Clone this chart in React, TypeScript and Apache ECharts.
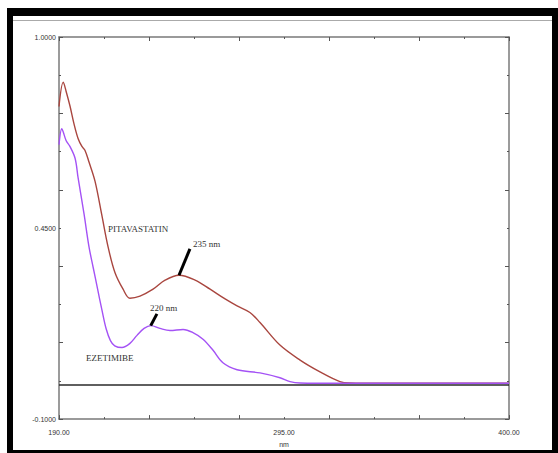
import { useEffect, useRef } from "react";
import * as echarts from "echarts";

// Absorbance spectra (wavelength in nm, absorbance)
const pitavastatinNm = [190, 192, 193.3, 195.1, 197, 198.9, 200.7, 202.1, 204, 206.8, 209.9, 212.9, 216.1, 219.9, 223.1, 227.8, 233.9, 239.5, 246, 253.5, 260.5, 267.5, 273.1, 279.1, 283.8, 293.1, 302.5, 311.8, 321.1, 325.8, 340, 360, 380, 400];
const pitavastatinAbs = [0.8, 0.87, 0.844, 0.802, 0.75, 0.708, 0.685, 0.674, 0.64, 0.585, 0.49, 0.396, 0.322, 0.274, 0.248, 0.254, 0.274, 0.3, 0.314, 0.3, 0.274, 0.246, 0.226, 0.207, 0.178, 0.113, 0.07, 0.036, 0.008, 0.004, 0.003, 0.003, 0.003, 0.003];

const ezetimibeNm = [190, 191.3, 191.9, 193.3, 195.1, 197.5, 198.9, 201.7, 204, 206, 208, 210, 212, 214, 216, 219.4, 223.1, 226.4, 229.7, 232.9, 237.1, 241.8, 247.9, 252.5, 257.2, 261.9, 266.5, 273.1, 283.8, 293.1, 297.8, 302.5, 320, 350, 400];
const ezetimibeAbs = [0.69, 0.736, 0.728, 0.702, 0.685, 0.651, 0.595, 0.49, 0.396, 0.335, 0.275, 0.215, 0.16, 0.126, 0.111, 0.106, 0.118, 0.141, 0.161, 0.169, 0.161, 0.155, 0.158, 0.149, 0.13, 0.098, 0.062, 0.042, 0.033, 0.019, 0.008, 0.004, 0.003, 0.003, 0.003];

// Axis ticks and labels
const xLabels = [190, 295, 400];
const xMajorTicks = [190, 232, 274, 316, 358, 400];
const xMinorTicks = [211, 253, 295, 337, 379];
const yLabels = [-0.1, 0.45, 1.0];
const yMajorTicks = [-0.1, 0.12, 0.34, 0.56, 0.78, 1.0];
const yMinorTicks = [0.01, 0.23, 0.45, 0.67, 0.89];

// Peak annotations: pointer from peak to label, text anchor (data coords)
const peakNotes = [
  { text: "235 nm", from: [246.0, 0.314], to: [251.1, 0.39], at: [252.5, 0.405] },
  { text: "220 nm", from: [232.8, 0.169], to: [235.7, 0.203], at: [232.5, 0.22] },
];
const seriesNotes = [
  { text: "PITAVASTATIN", at: [212.9, 0.447] },
  { text: "EZETIMIBE", at: [202.6, 0.076] },
];

const AXIS_COLOR = "#7a7a7a";
const TICK_COLOR = "#555";
const LABEL_FONT = "Liberation Sans, Arial, sans-serif";
const NOTE_FONT = "Liberation Serif, Times New Roman, serif";

export default function App() {
  const ref = useRef<HTMLDivElement>(null);

  useEffect(() => {
    document.body.style.margin = "0";
    if (!ref.current) return;
    const chart = echarts.init(ref.current, null, { renderer: "svg" });

    const xAxisBase = { type: "value", min: 190, max: 400, splitLine: { show: false } };
    const yAxisBase = { type: "value", min: -0.1, max: 1.0, splitLine: { show: false } };
    const line = { show: true, onZero: false, lineStyle: { color: AXIS_COLOR, width: 1.5 } };
    const noLine = { show: false, onZero: false };
    const tick = (vals: number[], len: number) => ({
      show: true,
      inside: true,
      length: len,
      customValues: vals,
      lineStyle: { color: TICK_COLOR, width: 1 },
    });
    const noLabel = { show: false };

    chart.setOption({
      animation: false,
      backgroundColor: "#fff",
      grid: { left: 59, top: 37, width: 450, height: 388, containLabel: false },
      xAxis: [
        {
          ...xAxisBase,
          position: "bottom",
          axisLine: line,
          axisTick: tick(xMajorTicks, 4),
          axisLabel: {
            customValues: xLabels,
            formatter: (v: number) => v.toFixed(2),
            fontSize: 7,
            color: "#333",
            fontFamily: LABEL_FONT,
            margin: 10,
          },
          name: "nm",
          nameLocation: "middle",
          nameGap: 21,
          nameTextStyle: { fontSize: 7, color: "#333", fontFamily: LABEL_FONT },
        },
        { ...xAxisBase, position: "bottom", axisLine: noLine, axisTick: tick(xMinorTicks, 2), axisLabel: noLabel },
        { ...xAxisBase, position: "top", axisLine: line, axisTick: tick(xMajorTicks, 4), axisLabel: noLabel },
        { ...xAxisBase, position: "top", axisLine: noLine, axisTick: tick(xMinorTicks, 2), axisLabel: noLabel },
      ],
      yAxis: [
        {
          ...yAxisBase,
          position: "left",
          axisLine: line,
          axisTick: tick(yMajorTicks, 4),
          axisLabel: {
            customValues: yLabels,
            formatter: (v: number) => v.toFixed(4),
            fontSize: 7,
            color: "#333",
            fontFamily: LABEL_FONT,
            margin: 3,
          },
        },
        { ...yAxisBase, position: "left", axisLine: noLine, axisTick: tick(yMinorTicks, 2), axisLabel: noLabel },
        { ...yAxisBase, position: "right", axisLine: line, axisTick: tick(yMajorTicks, 4), axisLabel: noLabel },
        { ...yAxisBase, position: "right", axisLine: noLine, axisTick: tick(yMinorTicks, 2), axisLabel: noLabel },
      ],
      series: [
        {
          name: "PITAVASTATIN",
          type: "line",
          xAxisIndex: 0,
          yAxisIndex: 0,
          data: pitavastatinNm.map((x, i) => [x, pitavastatinAbs[i]]),
          showSymbol: false,
          smooth: 0.35,
          lineStyle: { color: "#a9463f", width: 1.4 },
          z: 3,
        },
        {
          name: "EZETIMIBE",
          type: "line",
          xAxisIndex: 0,
          yAxisIndex: 0,
          data: ezetimibeNm.map((x, i) => [x, ezetimibeAbs[i]]),
          showSymbol: false,
          smooth: 0.35,
          lineStyle: { color: "#a452f5", width: 1.4 },
          z: 4,
          markLine: {
            silent: true,
            symbol: "none",
            label: { show: false },
            lineStyle: { color: "#2a2a2a", width: 1.5, type: "solid" },
            data: [{ yAxis: 0 }],
            z: 2,
          },
        },
      ],
    });

    const px = (p: number[]) => chart.convertToPixel({ xAxisIndex: 0, yAxisIndex: 0 }, p) as number[];

    const graphics: any[] = [];
    peakNotes.forEach((n) => {
      const a = px(n.from);
      const b = px(n.to);
      const t = px(n.at);
      graphics.push({
        type: "line",
        shape: { x1: a[0], y1: a[1], x2: b[0], y2: b[1] },
        style: { stroke: "#000", lineWidth: 3 },
        z: 20,
      });
      graphics.push({
        type: "text",
        x: t[0],
        y: t[1],
        style: { text: n.text, fill: "#333", font: `9px ${NOTE_FONT}`, textVerticalAlign: "middle" },
        z: 20,
      });
    });
    seriesNotes.forEach((n) => {
      const t = px(n.at);
      graphics.push({
        type: "text",
        x: t[0],
        y: t[1],
        style: { text: n.text, fill: "#333", font: `9px ${NOTE_FONT}`, textVerticalAlign: "middle" },
        z: 20,
      });
    });

    // Window frame
    graphics.push(
      { type: "line", shape: { x1: 13, y1: 20.5, x2: 552, y2: 20.5 }, style: { stroke: "#aaa", lineWidth: 1 }, z: 30 },
      { type: "rect", shape: { x: 7, y: 8, width: 551, height: 8 }, style: { fill: "#000" }, z: 30 },
      { type: "rect", shape: { x: 7, y: 8, width: 6, height: 445 }, style: { fill: "#000" }, z: 30 },
      { type: "rect", shape: { x: 552, y: 8, width: 6, height: 445 }, style: { fill: "#000" }, z: 30 },
      { type: "rect", shape: { x: 7, y: 450, width: 551, height: 3 }, style: { fill: "#000" }, z: 30 }
    );

    chart.setOption({ graphic: graphics });

    return () => chart.dispose();
  }, []);

  return <div ref={ref} style={{ width: 558, height: 453 }} />;
}
